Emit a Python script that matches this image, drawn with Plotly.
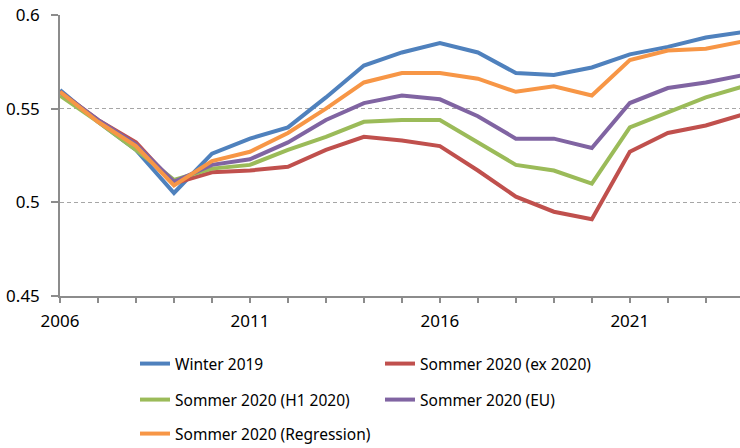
import plotly.graph_objects as go

years = list(range(2006, 2025))
winter_2019 = [0.560, 0.543, 0.528, 0.505, 0.526, 0.534, 0.540, 0.556, 0.573, 0.580, 0.585, 0.580, 0.569, 0.568, 0.572, 0.579, 0.583, 0.588, 0.591]
sommer_ex2020 = [0.559, 0.544, 0.532, 0.510, 0.516, 0.517, 0.519, 0.528, 0.535, 0.533, 0.530, 0.517, 0.503, 0.495, 0.491, 0.527, 0.537, 0.541, 0.547]
sommer_h1 = [0.557, 0.543, 0.528, 0.512, 0.518, 0.520, 0.528, 0.535, 0.543, 0.544, 0.544, 0.532, 0.520, 0.517, 0.510, 0.540, 0.548, 0.556, 0.562]
sommer_eu = [0.559, 0.544, 0.531, 0.511, 0.520, 0.523, 0.532, 0.544, 0.553, 0.557, 0.555, 0.546, 0.534, 0.534, 0.529, 0.553, 0.561, 0.564, 0.568]
sommer_reg = [0.559, 0.543, 0.530, 0.509, 0.522, 0.527, 0.537, 0.550, 0.564, 0.569, 0.569, 0.566, 0.559, 0.562, 0.557, 0.576, 0.581, 0.582, 0.586]

x_tickvals = years
x_ticktext = [str(y) if (y - 2006) % 5 == 0 else "" for y in years]
y_tickvals = [0.45, 0.5, 0.55, 0.6]
y_ticktext = ["0.45", "0.5", "0.55", "0.6"]

series = [
    ("Winter 2019", winter_2019, "#4F81BD", "legend"),
    ("Sommer 2020 (ex 2020)", sommer_ex2020, "#C0504D", "legend"),
    ("Sommer 2020 (H1 2020)", sommer_h1, "#9BBB59", "legend2"),
    ("Sommer 2020 (EU)", sommer_eu, "#8064A2", "legend2"),
    ("Sommer 2020 (Regression)", sommer_reg, "#F79646", "legend3"),
]

FONT = "Noto Sans"
W, H = 740, 448
fig = go.Figure()
for name, vals, color, lg in series:
    fig.add_trace(go.Scatter(x=years, y=vals, mode="lines", name=name,
                             line=dict(color=color, width=4), legend=lg))

leg_common = dict(orientation="h", xref="container", yref="container", xanchor="left",
                  yanchor="middle", entrywidth=200, entrywidthmode="pixels",
                  font=dict(family=FONT, size=15.5, color="#000000"),
                  bgcolor="rgba(0,0,0,0)", itemwidth=30)

tickfont = dict(family=FONT, size=17, color="#000000")

fig.update_layout(
    width=W, height=H,
    margin=dict(l=60, r=0, t=15, b=152, autoexpand=False),
    paper_bgcolor="white", plot_bgcolor="white",
    font=dict(family=FONT, size=15, color="#000000"),
    xaxis=dict(range=[2006, 2023.9], tickvals=x_tickvals, ticktext=x_ticktext,
               ticks="outside", ticklen=5, tickcolor="#8C8C8C", tickwidth=1.5,
               showline=True, linecolor="#8C8C8C", linewidth=1.5,
               showgrid=False, zeroline=False, automargin=False,
               ticklabelstandoff=4, tickfont=tickfont),
    yaxis=dict(range=[0.45, 0.6], tickvals=y_tickvals, ticktext=y_ticktext,
               ticks="outside", ticklen=7, tickcolor="#8C8C8C", tickwidth=1.5,
               showline=True, linecolor="#8C8C8C", linewidth=1.5,
               showgrid=True, gridcolor="#A6A6A6", griddash="4px,3px", gridwidth=1,
               zeroline=False, automargin=False,
               ticklabelstandoff=8, tickfont=tickfont),
    legend=dict(**leg_common, x=135 / W, y=1 - 364 / H),
    legend2=dict(**leg_common, x=135 / W, y=1 - 400 / H),
    legend3=dict(**leg_common, x=135 / W, y=1 - 434 / H),
    showlegend=True,
)

fig.write_html("out.html", config={"displayModeBar": False},
               post_script="document.body.style.margin='0';document.body.style.overflow='hidden';")
